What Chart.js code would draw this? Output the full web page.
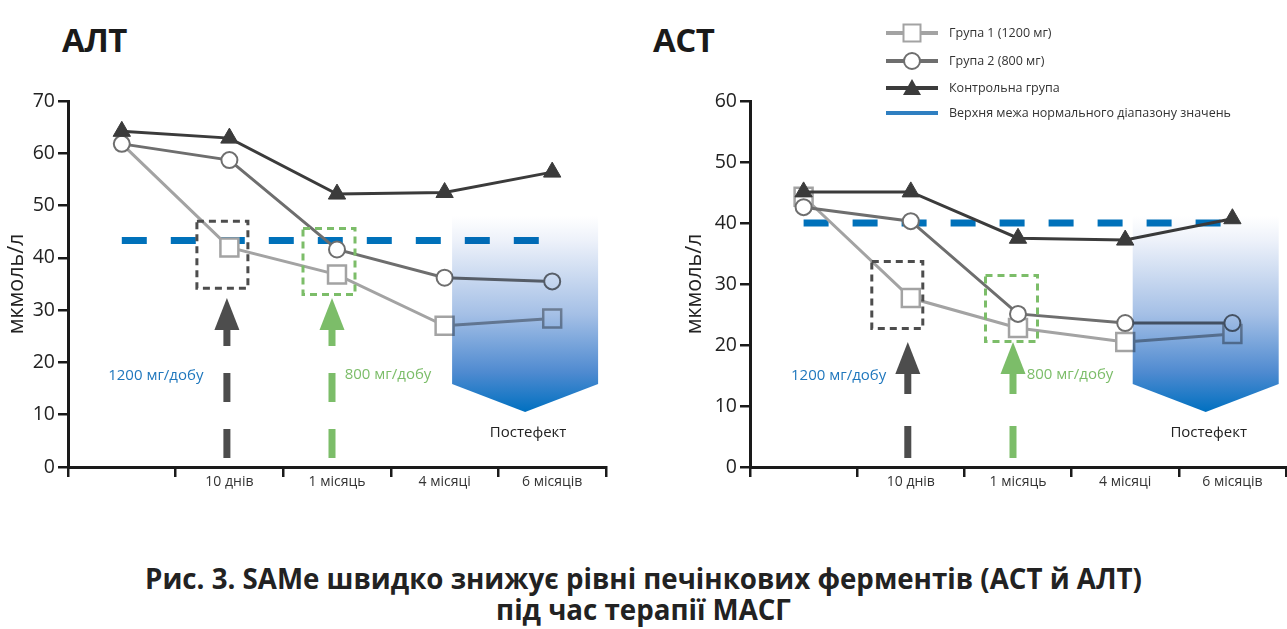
<!DOCTYPE html>
<html><head><meta charset="utf-8">
<script src="https://cdn.jsdelivr.net/npm/chart.js@4.4.1/dist/chart.umd.min.js"></script>
<style>
html,body{margin:0;padding:0;}
body{width:1287px;height:629px;background:#fff;position:relative;overflow:hidden;font-family:'Open Sans',sans-serif;}
.t{position:absolute;font-weight:700;font-size:33px;color:#1a1a1a;line-height:1;letter-spacing:-0.5px;}
#c1{position:absolute;left:0;top:0;}
#c2{position:absolute;left:680px;top:0;}
#legsvg{position:absolute;left:880px;top:15px;}
.lt{position:absolute;left:949px;font-size:12.5px;line-height:18px;color:#333;white-space:nowrap;}
.caption{position:absolute;left:0;width:1287px;top:563px;text-align:center;font-weight:700;font-size:27.7px;line-height:31px;color:#222;}
</style></head>
<body>
<div class="t" style="left:62px;top:23px;">АЛТ</div>
<div class="t" style="left:653px;top:23px;">АСТ</div>
<canvas id="c1" width="640" height="500"></canvas>
<canvas id="c2" width="607" height="500"></canvas>
<svg id="legsvg" width="70" height="110">
  <line x1="6" y1="18" x2="58" y2="18" stroke="#a3a3a3" stroke-width="4"/>
  <rect x="23.5" y="9.5" width="17" height="17" fill="#fff" stroke="#a3a3a3" stroke-width="2"/>
  <line x1="6" y1="46" x2="58" y2="46" stroke="#6e6e6e" stroke-width="4"/>
  <circle cx="32" cy="46" r="8" fill="#fff" stroke="#6e6e6e" stroke-width="2"/>
  <line x1="6" y1="73" x2="58" y2="73" stroke="#3b3b3b" stroke-width="4"/>
  <polygon points="32,64 41,80 23,80" fill="#3b3b3b"/>
  <line x1="6" y1="98" x2="58" y2="98" stroke="#2f7fc1" stroke-width="4"/>
</svg>
<div id="legendTexts"></div>
<div class="caption">Рис. 3. SAMe швидко знижує рівні печінкових ферментів (АСТ й АЛТ)<br>під час терапії МАСГ</div>
<script>
// ---- data ----
const categories = ['', '10 днів', '1 місяць', '4 місяці', '6 місяців'];
const seriesNames = ['Група 1 (1200 мг)', 'Група 2 (800 мг)', 'Контрольна група', 'Верхня межа нормального діапазону значень'];

const altGroup1 = [61.8, 42.0, 36.8, 27.0, 28.4];
const altGroup2 = [61.8, 58.7, 41.6, 36.2, 35.5];
const altControl = [64.2, 62.9, 52.2, 52.5, 56.4];
const altUpperLimit = [43.3, 43.3, 43.3, 43.3, 43.3];
const altTicks = [0, 10, 20, 30, 40, 50, 60, 70];

const astGroup1 = [44.3, 27.7, 22.8, 20.5, 21.8];
const astGroup2 = [42.6, 40.3, 25.1, 23.6, 23.6];
const astControl = [45.1, 45.1, 37.5, 37.2, 40.7];
const astUpperLimit = [40, 40, 40, 40, 40];
const astTicks = [0, 10, 20, 30, 40, 50, 60];

const doseLabels = ['1200 мг/добу', '800 мг/добу'];
const postLabel = 'Постефект';
const yTitle = 'мкмоль/л';

// legend texts
const legTops = [24, 52, 79, 104];
document.getElementById('legendTexts').innerHTML = seriesNames.map((n, i) =>
  '<div class="lt" style="top:' + legTops[i] + 'px">' + n + '</div>').join('');

const C_G1 = '#a3a3a3', C_G2 = '#6e6e6e', C_CT = '#3b3b3b', C_REF = '#0071ba';
const C_DARK = '#4d4d4d', C_GREEN = '#7cbd69', C_BLUE_TXT = '#1f77bd';

const annotPlugin = {
  id: 'annot',
  afterDatasetsDraw(chart, args, o) {
    const ctx = chart.ctx, xs = chart.scales.x, ys = chart.scales.y;
    const bottom = chart.chartArea.bottom;
    ctx.save();
    // post-effect gradient (multiply overlay)
    const p = o.post;
    const x0 = xs.getPixelForValue(3) + p.x0, x1 = xs.getPixelForValue(3) + p.x1;
    const top = bottom - p.top, sideB = bottom - p.side, tip = bottom - p.tip;
    const g = ctx.createLinearGradient(0, top, 0, tip);
    g.addColorStop(0, '#ffffff');
    g.addColorStop(0.12, '#eef2fa');
    g.addColorStop(0.5, '#a5c0e6');
    g.addColorStop(0.8, '#4e8ad0');
    g.addColorStop(1, '#0070c0');
    ctx.globalCompositeOperation = 'multiply';
    ctx.fillStyle = g;
    ctx.beginPath();
    ctx.moveTo(x0, top); ctx.lineTo(x1, top); ctx.lineTo(x1, sideB);
    ctx.lineTo((x0 + x1) / 2, tip); ctx.lineTo(x0, sideB); ctx.closePath();
    ctx.fill();
    ctx.globalCompositeOperation = 'source-over';
    // dashed boxes
    o.boxes.forEach(b => {
      const cx = xs.getPixelForValue(b.cat) + b.dx, cy = ys.getPixelForValue(b.y);
      ctx.strokeStyle = b.color; ctx.lineWidth = 3; ctx.setLineDash([7, 5]);
      ctx.strokeRect(cx - b.w / 2, cy - b.h / 2, b.w, b.h);
    });
    ctx.setLineDash([]);
    // arrows
    o.arrows.forEach(a => {
      const x = xs.getPixelForValue(a.cat) + a.dx;
      const tipY = bottom - a.tip, baseY = tipY + 32, endY = bottom - 9;
      ctx.fillStyle = a.color; ctx.strokeStyle = a.color;
      ctx.beginPath(); ctx.moveTo(x, tipY); ctx.lineTo(x + 12.5, baseY); ctx.lineTo(x - 12.5, baseY); ctx.closePath(); ctx.fill();
      ctx.lineWidth = 7; ctx.setLineDash(a.dash); ctx.lineDashOffset = 0;
      ctx.beginPath(); ctx.moveTo(x, endY); ctx.lineTo(x, baseY); ctx.stroke();
      ctx.setLineDash([]);
    });
    // texts
    ctx.textAlign = 'center'; ctx.textBaseline = 'middle';
    o.texts.forEach(t => {
      ctx.font = '15px "Open Sans"'; ctx.fillStyle = t.color;
      ctx.fillText(t.text, xs.getPixelForValue(t.cat) + t.dx, bottom - t.up);
    });
    ctx.restore();
  }
};

function makeChart(id, g1, g2, ct, ref, ticks, yMax, g1Radius, annot, titlePad, yWidth, padRight) {
  return new Chart(document.getElementById(id), {
    type: 'line',
    data: {
      labels: categories,
      datasets: [
        { label: seriesNames[2], data: ct, borderColor: C_CT, backgroundColor: C_CT, borderWidth: 3,
          pointStyle: 'triangle', pointRadius: 10, pointBorderWidth: 1, order: 1 },
        { label: seriesNames[1], data: g2, borderColor: C_G2, backgroundColor: '#fff', borderWidth: 3,
          pointStyle: 'circle', pointRadius: 8, pointBorderWidth: 2, order: 2 },
        { label: seriesNames[0], data: g1, borderColor: C_G1, backgroundColor: '#fff', borderWidth: 3,
          pointStyle: 'rect', pointRadius: g1Radius, pointBorderWidth: 2.5, order: 3 },
        { label: seriesNames[3], data: ref, borderColor: C_REF, borderWidth: 7, borderDash: [25, 24],
          pointRadius: 0, order: 4, borderCapStyle: 'butt' }
      ]
    },
    options: {
      responsive: false, animation: false, devicePixelRatio: 1,
      layout: { autoPadding: false, padding: { top: 101, right: padRight, left: 0, bottom: 0 } },
      plugins: { legend: { display: false }, tooltip: { enabled: false }, annot: annot },
      elements: { line: { tension: 0 } },
      scales: {
        x: {
          type: 'category', offset: true,
          grid: { drawOnChartArea: false, offset: true, tickLength: 10, color: '#1a1a1a', lineWidth: 2.5 },
          border: { color: '#1a1a1a', width: 3 },
          ticks: { color: '#333', font: { family: 'Open Sans', size: 14 }, padding: -3, maxRotation: 0, autoSkip: false },
          afterFit: s => { s.height = 33; s.paddingLeft = 0; s.paddingRight = 0; }
        },
        y: {
          min: 0, max: yMax,
          afterBuildTicks: s => { s.ticks = ticks.map(v => ({ value: v })); },
          grid: { drawOnChartArea: false, tickLength: 10, color: '#1a1a1a', lineWidth: 2.5 },
          border: { color: '#1a1a1a', width: 3 },
          ticks: { color: '#222', font: { family: 'Open Sans', size: 19.5 }, padding: 3 },
          title: { display: true, text: yTitle, color: '#222', font: { family: 'Open Sans', size: 21.5 }, padding: { top: titlePad, bottom: 0 } },
          afterFit: s => { s.width = yWidth; }
        }
      }
    },
    plugins: [annotPlugin]
  });
}

const common = (dxBoxDark, dxBoxGreen, yBoxDark, yBoxGreen, arrowTip, dxArDark, dxArGreen, dash, txtDx) => ({
  post: { x0: 7.5, x1: 153.5, top: 251, side: 83, tip: 55 },
  boxes: [
    { cat: 1, dx: dxBoxDark, y: yBoxDark, w: 51, h: 67, color: C_DARK },
    { cat: 2, dx: dxBoxGreen, y: yBoxGreen, w: 52, h: 66, color: C_GREEN }
  ],
  arrows: [
    { cat: 1, dx: dxArDark, tip: arrowTip, color: C_DARK, dash: dash },
    { cat: 2, dx: dxArGreen, tip: arrowTip, color: C_GREEN, dash: dash }
  ],
  texts: [
    { text: doseLabels[0], cat: 0, dx: txtDx[0], up: 91, color: C_BLUE_TXT },
    { text: doseLabels[1], cat: 2, dx: txtDx[1], up: 92, color: C_GREEN },
    { text: postLabel, cat: 3, dx: 83.5, up: 34, color: '#222' }
  ]
});

// ALT chart: canvas 0..640; chart area 68..606
makeChart('c1', altGroup1, altGroup2, altControl, altUpperLimit, altTicks, 70,
  [0, 12.7, 12.7, 12.7, 12.7],
  common(-7, -8, 40.6, 39.3, 169, -2.5, -5, [29, 27], [34, 51]), 4, 68, 34);

// AST chart: canvas 680..1287; chart area 750..1286
makeChart('c2', astGroup1, astGroup2, astControl, astUpperLimit, astTicks, 60,
  12.7,
  common(-13.5, -6.5, 28.2, 26.0, 125, -3, -5, [32, 32], [35, 52]), 2, 70, 1);
</script>
</body></html>
